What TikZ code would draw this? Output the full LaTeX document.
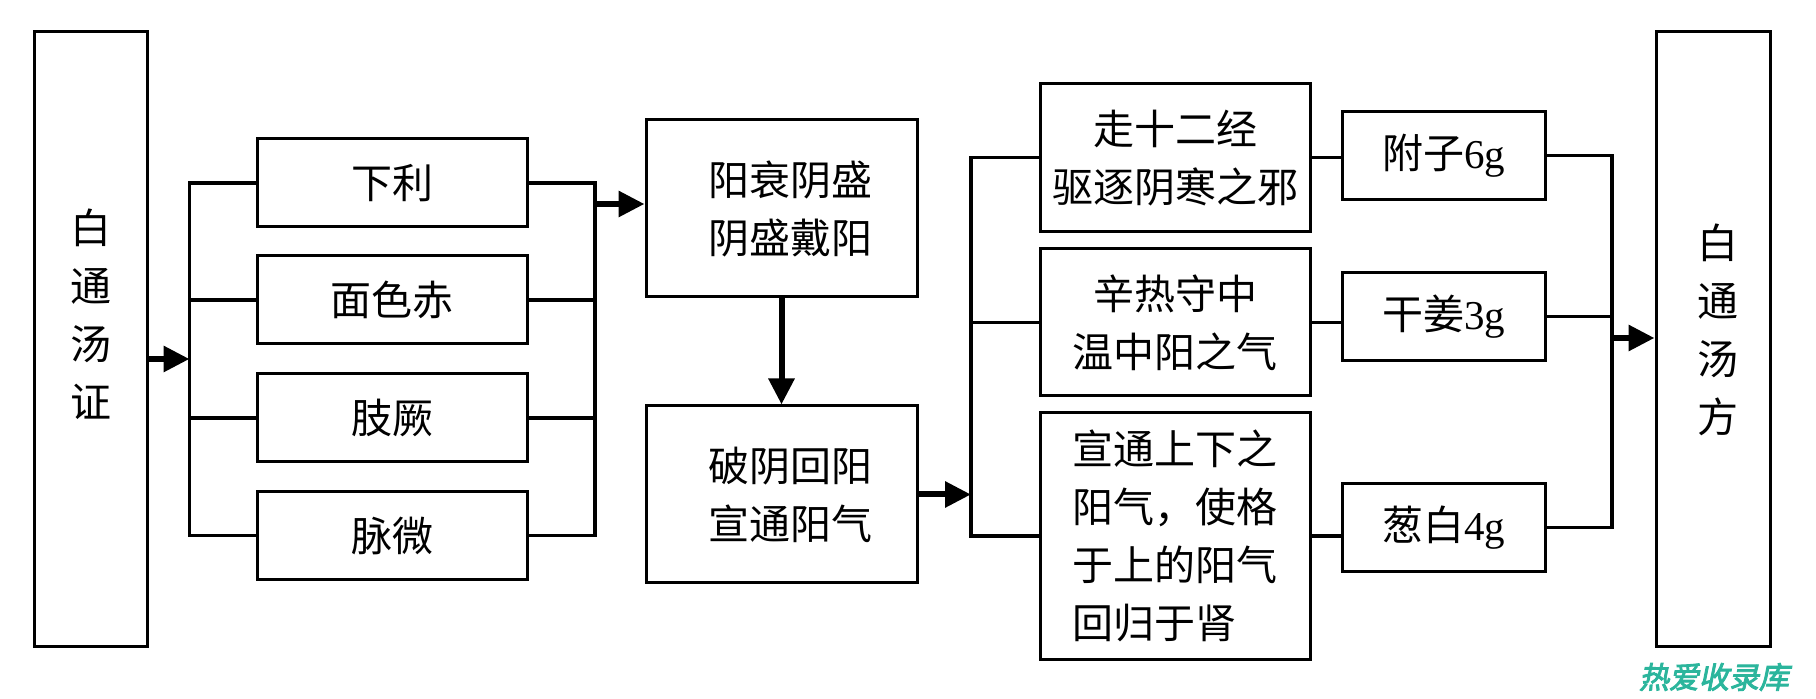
\documentclass[tikz,border=0pt]{standalone}
\usepackage{fontspec}
\setmainfont{Liberation Serif}
\newfontfamily\cjk{Noto Sans CJK SC}
\newfontfamily\wmfont[FakeSlant=0.2,FakeBold=3]{Noto Sans CJK SC}
\usetikzlibrary{arrows.meta}
\definecolor{wmteal}{HTML}{2BB59C}
\tikzset{
  box/.style={draw, line width=1.5pt, inner sep=0pt, align=center,
    font=\cjk\fontsize{20.5pt}{29pt}\selectfont},
  vtext/.style={inner sep=0pt, align=center,
    font=\cjk\fontsize{20.5pt}{29pt}\selectfont},
  conn/.style={line width=1.6pt},
  arr/.style={line width=3pt, -{Triangle[length=13pt,width=12.5pt]}}
}
\begin{document}
\begin{tikzpicture}[x=0.5pt,y=-0.5pt]
\useasboundingbox (0,0) rectangle (1816,699);
% left and right tall boxes
\node[box, minimum width=56.5pt, minimum height=307.5pt] (L) at (90.5,339.5) {};
\node[vtext] (Lt) at (90.5,314) {白\\通\\汤\\证};
\node[box, minimum width=57pt, minimum height=307.5pt] (R) at (1713,339.5) {};
\node[vtext] (Rt) at (1717.5,330) {白\\通\\汤\\方};
% symptom boxes
\node[box, minimum width=135pt, minimum height=44pt] (S1) at (392,183) {下利};
\node[box, minimum width=135pt, minimum height=44pt] (S2) at (392,300) {面色赤};
\node[box, minimum width=135pt, minimum height=44pt] (S3) at (392,418) {肢厥};
\node[box, minimum width=135pt, minimum height=44pt] (S4) at (392,535.5) {脉微};
% mechanism boxes
\node[box, minimum width=135.5pt, minimum height=88.5pt] (A) at (781.5,208.5) {\hspace*{9pt}阳衰阴盛\\\hspace*{9pt}阴盛戴阳};
\node[box, minimum width=135.5pt, minimum height=88.5pt] (B) at (781.5,494.5) {\hspace*{9pt}破阴回阳\\\hspace*{9pt}宣通阳气};
% effect boxes
\node[box, minimum width=135pt, minimum height=73.75pt] (C1) at (1175,157.75) {走十二经\\驱逐阴寒之邪};
\node[box, minimum width=135pt, minimum height=73.5pt] (C2) at (1175,322.5) {辛热守中\\温中阳之气};
\node[box, minimum width=135pt, minimum height=123.5pt, align=left] (C3) at (1175,536) {宣通上下之\\阳气，使格\\于上的阳气\\回归于肾};
% herb boxes
\node[box, minimum width=101.5pt, minimum height=44pt] (D1) at (1443.5,155.5) {附子{\rmfamily 6g}};
\node[box, minimum width=101.5pt, minimum height=44pt] (D2) at (1443.5,316.5) {干姜{\rmfamily 3g}};
\node[box, minimum width=101.5pt, minimum height=44pt] (D3) at (1443.5,527.75) {葱白{\rmfamily 4g}};
% bus coordinates
\coordinate (bL) at (189.5,359);
\coordinate (bR) at (595,204);
\coordinate (bC) at (971,494.5);
\coordinate (bD) at (1612,338);
% left bus
\draw[arr] (L.east |- bL) -- (bL);
\draw[conn] (S1.west) -- (S1.west -| bL) -- (S4.west -| bL) -- (S4.west);
\draw[conn] (S2.west) -- (S2.west -| bL);
\draw[conn] (S3.west) -- (S3.west -| bL);
% right bus of symptoms
\draw[conn] (S1.east) -- (S1.east -| bR) -- (S4.east -| bR) -- (S4.east);
\draw[conn] (S2.east) -- (S2.east -| bR);
\draw[conn] (S3.east) -- (S3.east -| bR);
\draw[arr] (bR) -- (bR -| A.west);
% A to B
\draw[arr] (A.south) -- (B.north);
% B to effects
\draw[arr] (B.east) -- (bC);
\draw[conn] (C1.west) -- (C1.west -| bC) -- (C3.west -| bC) -- (C3.west);
\draw[conn] (C2.west) -- (C2.west -| bC);
% effects to herbs
\draw[conn] (C1.east) -- (C1.east -| D1.west);
\draw[conn] (C2.east) -- (C2.east -| D2.west);
\draw[conn] (C3.east) -- (C3.east -| D3.west);
% herbs to formula
\draw[conn] (D1.east) -- (D1.east -| bD) -- (D3.east -| bD) -- (D3.east);
\draw[conn] (D2.east) -- (D2.east -| bD);
\draw[arr] (bD) -- (bD -| R.west);
% watermark
\node[inner sep=0pt, text=wmteal, font=\wmfont\fontsize{15pt}{15pt}\selectfont] (wm) at (1714,677) {热爱收录库};
\end{tikzpicture}
\end{document}
